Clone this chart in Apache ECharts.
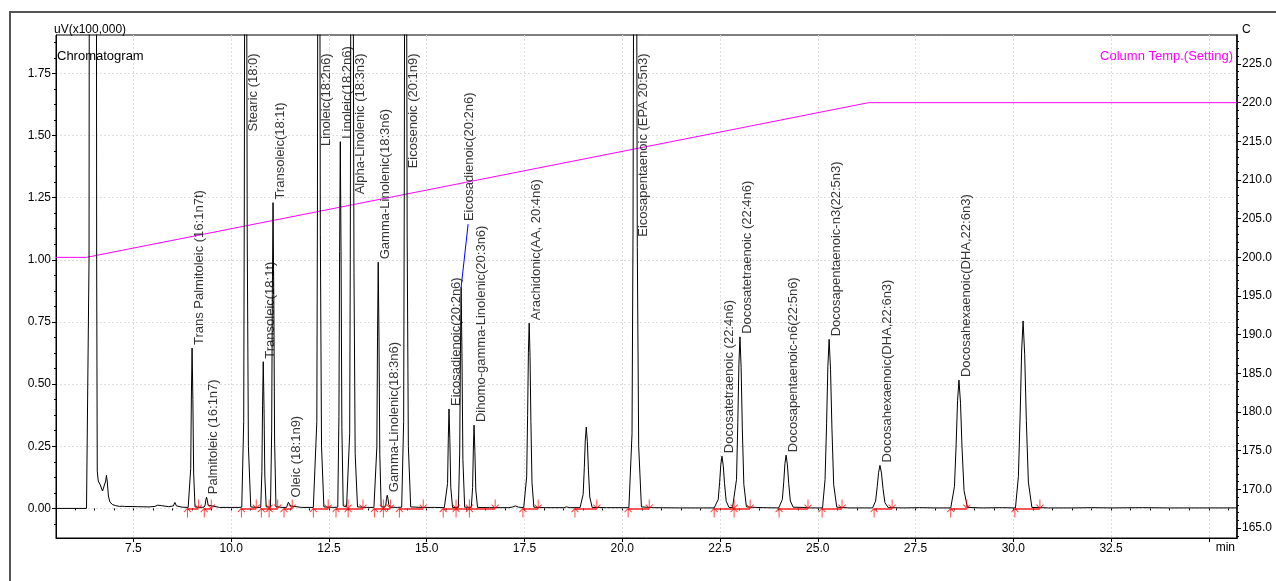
<!DOCTYPE html>
<html>
<head>
<meta charset="utf-8">
<script src="https://cdn.jsdelivr.net/npm/echarts@6/dist/echarts.min.js"></script>
<style>
  html, body { margin: 0; padding: 0; background: #fff; }
  #chart { width: 1276px; height: 581px; }
</style>
</head>
<body>
<div id="chart"></div>
<script>
const FONT = "'Liberation Sans', Arial, Helvetica, sans-serif";

// Integrated peaks: retention time (min), apex height (uV x100,000) and name
const peakTimes = [9.00, 9.37, 10.37, 10.82, 11.07, 11.48, 12.24, 12.79, 13.09, 13.76, 13.99, 14.46,
  15.57, 15.88, 16.21, 17.62, 19.08, 20.33, 22.55, 23.01, 24.19, 25.29, 26.59, 28.61, 30.25];
const peakHeights = [0.645, 0.045, 3.6, 0.59, 1.23, 0.032, 4.2, 1.475, 3.0, 0.99, 0.053, 3.2,
  0.40, 0.89, 0.335, 0.745, 0.327, 3.4, 0.21, 0.69, 0.214, 0.68, 0.173, 0.516, 0.754];
const peakNames = [
  'Trans Palmitoleic (16:1n7t)', 'Palmitoleic (16:1n7)', 'Stearic (18:0)', 'Transoleic(18:1t)',
  'Transoleic(18:1t)', 'Oleic (18:1n9)', 'Linoleic(18:2n6)', 'Linoleic(18:2n6)',
  'Alpha-Linolenic (18:3n3)', 'Gamma-Linolenic(18:3n6)', 'Gamma-Linolenic(18:3n6)', 'Eicosenoic (20:1n9)',
  'Eicosadienoic(20:2n6)', 'Eicosadienoic(20:2n6)', 'Dihomo-gamma-Linolenic(20:3n6)', 'Arachidonic(AA, 20:4n6)',
  '', 'Eicosapentaenoic (EPA 20:5n3)', 'Docosatetraenoic (22:4n6)', 'Docosatetraenoic (22:4n6)',
  'Docosapentaenoic-n6(22:5n6)', 'Docosapentaenoic-n3(22:5n3)', 'Docosahexaenoic(DHA,22:6n3)',
  'Docosahexaenoic(DHA,22:6n3)', ''];

// Integration windows (peak start / peak end, min)
const integrationStarts = [8.88, 9.31, 10.26, 10.77, 10.97, 11.35, 12.10, 12.68, 12.99, 13.66, 13.89, 14.30,
  15.42, 15.75, 16.09, 17.46, 18.79, 20.15, 22.35, 22.86, 24.01, 25.11, 26.44, 28.40, 30.04];
const integrationEnds = [9.16, 9.49, 10.64, 10.97, 11.19, 11.56, 12.48, 12.99, 13.37, 13.89, 14.07, 14.91,
  15.75, 16.09, 16.75, 17.85, 19.35, 20.69, 22.86, 23.27, 24.75, 25.62, 26.90, 28.81, 30.68];

// Detector signal [time (min), uV x100,000]
const chromatogram = [
  [5.52, 0], [6.30, 0], [6.35, 0.003], [6.365, 1.0], [6.38, 4], [6.45, 15], [6.52, 15], [6.545, 4], [6.56, 1.0],
  [6.575, 0.15], [6.60, 0.11], [6.65, 0.095], [6.71, 0.07], [6.76, 0.078], [6.79, 0.11], [6.81, 0.133], [6.83, 0.11],
  [6.86, 0.05], [6.90, 0.025], [6.97, 0.015], [7.05, 0.011], [7.15, 0.008], [7.21, 0.009], [7.24, 0.013], [7.27, 0.008],
  [7.6, 0.007], [7.9, 0.006], [8.05, 0.008], [8.12, 0.013], [8.22, 0.011], [8.4, 0.007], [8.52, 0.01], [8.56, 0.024],
  [8.6, 0.01], [8.75, 0.005], [8.9, 0.004],
  [8.935, 0.004], [8.965, 0.161], [8.982, 0.452], [9.00, 0.645], [9.02, 0.439], [9.04, 0.142], [9.075, 0.006],
  [9.2, 0.004],
  [9.305, 0.005], [9.335, 0.014], [9.352, 0.034], [9.37, 0.045], [9.39, 0.033], [9.41, 0.013], [9.445, 0.005],
  [9.7, 0.004], [10.0, 0.004], [10.2, 0.004],
  [10.27, 0.005], [10.32, 0.35], [10.335, 1.2], [10.35, 2.6], [10.37, 3.6], [10.39, 2.6], [10.41, 1.1], [10.44, 0.25], [10.50, 0.006],
  [10.65, 0.004],
  [10.755, 0.004], [10.785, 0.148], [10.802, 0.413], [10.82, 0.59], [10.84, 0.401], [10.86, 0.13], [10.895, 0.006],
  [11.005, 0.005], [11.035, 0.308], [11.052, 0.861], [11.07, 1.23], [11.09, 0.836], [11.11, 0.271], [11.145, 0.007],
  [11.3, 0.004],
  [11.415, 0.004], [11.445, 0.011], [11.462, 0.025], [11.48, 0.032], [11.50, 0.024], [11.52, 0.01], [11.555, 0.004],
  [11.8, 0.004], [12.1, 0.004],
  [12.14, 0.005], [12.19, 0.35], [12.205, 1.2], [12.22, 2.8], [12.24, 4.2], [12.26, 2.8], [12.28, 1.1], [12.31, 0.25], [12.37, 0.006],
  [12.6, 0.004],
  [12.725, 0.005], [12.755, 0.369], [12.772, 1.033], [12.79, 1.475], [12.81, 1.003], [12.83, 0.325], [12.865, 0.01],
  [12.95, 0.006],
  [12.99, 0.006], [13.03, 0.3], [13.045, 1.0], [13.06, 2.2], [13.09, 3.0], [13.12, 2.2], [13.14, 0.95], [13.17, 0.22], [13.23, 0.006],
  [13.45, 0.004], [13.65, 0.004],
  [13.695, 0.004], [13.725, 0.248], [13.742, 0.693], [13.76, 0.99], [13.78, 0.673], [13.80, 0.218], [13.835, 0.007],
  [13.925, 0.005], [13.955, 0.017], [13.972, 0.04], [13.99, 0.053], [14.01, 0.038], [14.03, 0.015], [14.065, 0.005],
  [14.25, 0.004],
  [14.36, 0.005], [14.41, 0.35], [14.425, 1.2], [14.44, 2.6], [14.46, 3.2], [14.48, 2.6], [14.50, 1.1], [14.53, 0.25], [14.59, 0.006],
  [14.9, 0.004], [15.2, 0.004], [15.45, 0.003],
  [15.50, 0.003], [15.533, 0.1], [15.552, 0.28], [15.57, 0.40], [15.592, 0.27], [15.615, 0.085], [15.66, 0.004],
  [15.81, 0.004], [15.843, 0.223], [15.862, 0.623], [15.88, 0.89], [15.902, 0.605], [15.925, 0.196], [15.97, 0.005],
  [16.14, 0.004], [16.173, 0.084], [16.192, 0.235], [16.21, 0.335], [16.232, 0.228], [16.255, 0.074], [16.30, 0.004],
  [16.6, 0.003], [17.1, 0.003], [17.2, 0.006], [17.27, 0.01], [17.35, 0.005], [17.48, 0.003],
  [17.516, 0.003], [17.556, 0.127], [17.58, 0.373], [17.60, 0.626], [17.62, 0.745], [17.642, 0.611], [17.664, 0.35], [17.692, 0.104], [17.74, 0.005],
  [18.0, 0.003], [18.5, 0.003], [18.58, 0.006], [18.66, 0.003], [18.92, 0.003],
  [18.95, 0.003], [19.00, 0.056], [19.03, 0.164], [19.055, 0.275], [19.08, 0.327], [19.108, 0.268], [19.135, 0.154], [19.17, 0.046], [19.23, 0.004],
  [19.6, 0.003], [20.0, 0.003], [20.17, 0.003],
  [20.19, 0.004], [20.25, 0.3], [20.275, 1.1], [20.295, 2.4], [20.33, 3.4], [20.365, 2.4], [20.385, 1.05], [20.42, 0.25], [20.49, 0.006],
  [20.8, 0.003], [21.5, 0.002], [22.0, 0.002], [22.35, 0.002],
  [22.394, 0.002], [22.454, 0.036], [22.49, 0.105], [22.52, 0.176], [22.55, 0.21], [22.583, 0.172], [22.616, 0.099], [22.658, 0.029], [22.73, 0.004],
  [22.82, 0.003],
  [22.867, 0.003], [22.922, 0.117], [22.955, 0.345], [22.983, 0.58], [23.01, 0.69], [23.04, 0.566], [23.07, 0.324], [23.109, 0.097], [23.175, 0.006],
  [23.4, 0.004], [23.6, 0.003], [24.0, 0.002],
  [24.034, 0.002], [24.094, 0.036], [24.13, 0.107], [24.16, 0.18], [24.19, 0.214], [24.223, 0.175], [24.256, 0.101], [24.298, 0.03], [24.37, 0.005],
  [24.6, 0.004], [24.8, 0.002], [25.05, 0.002],
  [25.121, 0.002], [25.186, 0.116], [25.225, 0.34], [25.258, 0.571], [25.29, 0.68], [25.326, 0.558], [25.362, 0.32], [25.407, 0.095], [25.485, 0.005],
  [25.8, 0.002], [26.2, 0.002], [26.4, 0.002],
  [26.408, 0.002], [26.478, 0.029], [26.52, 0.087], [26.555, 0.145], [26.59, 0.173], [26.629, 0.142], [26.667, 0.081], [26.716, 0.024], [26.80, 0.003],
  [27.2, 0.002], [27.6, 0.003], [28.0, 0.002], [28.4, 0.002],
  [28.423, 0.002], [28.495, 0.088], [28.538, 0.258], [28.574, 0.433], [28.61, 0.516], [28.65, 0.423], [28.689, 0.243], [28.74, 0.072], [28.826, 0.004],
  [29.2, 0.002], [29.7, 0.003], [30.0, 0.002],
  [30.055, 0.002], [30.13, 0.128], [30.175, 0.377], [30.213, 0.633], [30.25, 0.754], [30.291, 0.618], [30.333, 0.354], [30.385, 0.106], [30.475, 0.004],
  [30.9, 0.002], [31.5, 0.002], [32.0, 0.003], [32.5, 0.002], [33.3, 0.003], [34.0, 0.002], [35.72, 0.002]
];

// Column oven set-point program [time (min), C]
const columnTemp = [[5.52, 200], [6.3, 200], [26.3, 220], [35.72, 220]];

// Axis ticks
const timeTicks = [7.5, 10, 12.5, 15, 17.5, 20, 22.5, 25, 27.5, 30, 32.5, 35];
const timeTickLabels = [7.5, 10, 12.5, 15, 17.5, 20, 22.5, 25, 27.5, 30, 32.5];
const signalTicks = [0, 0.25, 0.5, 0.75, 1, 1.25, 1.5, 1.75];
const tempTicks = [165, 170, 175, 180, 185, 190, 195, 200, 205, 210, 215, 220, 225];

// Axis extents
const X_MIN = 5.52, X_MAX = 35.72;
const Y_MIN = -0.119, Y_MAX = 1.904;
const T_MIN = 163.71, T_MAX = 228.75;
const LABEL_TOP = 1.83;             // labels of off-scale peaks hang from here
const displaced = { index: 13, lift: 66, shift: 8 }; // label moved up with a leader line

function steps(from, to, step) {
  const out = [];
  for (let v = from; v <= to + 1e-9; v += step) out.push(+v.toFixed(4));
  return out;
}
const timeMinor = steps(6, 35.5, 0.5);
const signalMinor = steps(-0.0625, 1.875, 0.0625);
const tempMinor = steps(164, 228, 1);

const black = '#000';
const gridLine = { show: true, lineStyle: { color: '#dedede', width: 1, type: [2, 2] } };

function mainAxisBase(extra) {
  return Object.assign({
    type: 'value',
    axisLine: { show: true, onZero: false, lineStyle: { color: black, width: 1 } },
    axisLabel: { color: black, fontSize: 12, fontFamily: FONT, margin: 5 },
    splitLine: { show: false }
  }, extra);
}
function minorAxis(extra, values) {
  return Object.assign({
    type: 'value',
    axisLine: { show: false },
    axisLabel: { show: false },
    splitLine: { show: false },
    axisTick: { show: true, length: 2, customValues: values, lineStyle: { color: black, width: 1 } }
  }, extra);
}

const labelData = [];
peakTimes.forEach((t, i) => {
  if (!peakNames[i]) return;
  const offScale = peakHeights[i] > LABEL_TOP;
  const label = {
    show: true,
    position: 'inside',
    rotate: 90,
    align: offScale ? 'right' : 'left',
    verticalAlign: 'middle',
    offset: offScale ? [0, 8] : [3, 7],
    formatter: peakNames[i],
    fontSize: 13,
    fontFamily: FONT,
    color: black
  };
  if (i === displaced.index) label.offset = [displaced.lift, displaced.shift];
  labelData.push({ name: peakNames[i], value: [t, Math.min(peakHeights[i], LABEL_TOP)], label: label });
});

const upArrow = 'path://M5,0L0,5M5,0L10,5M5,0L5,12';
const downArrow = 'path://M5,12L0,7M5,12L10,7M5,12L5,0';

const chart = echarts.init(document.getElementById('chart'), null, { renderer: 'canvas' });
chart.setOption({
  animation: false,
  backgroundColor: '#fff',
  textStyle: { fontFamily: FONT },
  title: [
    { text: 'Chromatogram', left: 57, top: 50, padding: 0,
      textStyle: { fontSize: 13, fontWeight: 'normal', color: black, fontFamily: FONT } },
    { text: 'Column Temp.(Setting)', right: 43, top: 50, padding: 0,
      textStyle: { fontSize: 13, fontWeight: 'normal', color: '#ff00ff', fontFamily: FONT } }
  ],
  grid: { left: 56, right: 39, top: 35, bottom: 43, show: true, borderColor: black, borderWidth: 1,
          backgroundColor: 'transparent', outerBoundsMode: 'none' },
  xAxis: [
    mainAxisBase({
      position: 'bottom', min: X_MIN, max: X_MAX,
      name: 'min', nameLocation: 'end', nameGap: -2,
      nameTextStyle: { color: black, fontSize: 12, fontFamily: FONT, align: 'right', verticalAlign: 'top', padding: [4, 0, 0, 0] },
      axisTick: { show: true, length: 4, customValues: timeTicks, lineStyle: { color: black } },
      axisLabel: { color: black, fontSize: 12, fontFamily: FONT, margin: 5, customValues: timeTickLabels,
                   formatter: v => Number(v).toFixed(1) },
      splitLine: gridLine
    }),
    minorAxis({ position: 'bottom', min: X_MIN, max: X_MAX }, timeMinor)
  ],
  yAxis: [
    mainAxisBase({
      position: 'left', min: Y_MIN, max: Y_MAX,
      name: 'uV(x100,000)', nameLocation: 'end', nameGap: -1,
      nameTextStyle: { color: black, fontSize: 12, fontFamily: FONT, align: 'left', verticalAlign: 'bottom', padding: [0, 0, 0, -2] },
      axisTick: { show: true, length: 4, customValues: signalTicks, lineStyle: { color: black } },
      axisLabel: { color: black, fontSize: 12, fontFamily: FONT, margin: 5, customValues: signalTicks,
                   formatter: v => Number(v).toFixed(2) },
      splitLine: gridLine
    }),
    minorAxis({ position: 'left', min: Y_MIN, max: Y_MAX }, signalMinor),
    mainAxisBase({
      position: 'right', min: T_MIN, max: T_MAX,
      name: 'C', nameLocation: 'end', nameGap: -1,
      nameTextStyle: { color: black, fontSize: 12, fontFamily: FONT, align: 'left', verticalAlign: 'bottom', padding: [0, 0, 0, 5] },
      axisLine: { show: true, onZero: false, lineStyle: { color: '#222', width: 2 } },
      axisTick: { show: true, length: 4, customValues: tempTicks, lineStyle: { color: black } },
      axisLabel: { color: black, fontSize: 12, fontFamily: FONT, margin: 5, customValues: tempTicks,
                   formatter: v => Number(v).toFixed(1) }
    }),
    minorAxis({ position: 'right', min: T_MIN, max: T_MAX }, tempMinor)
  ],
  graphic: [
    { id: 'frame', type: 'rect', z: 100, silent: true,
      shape: { x: 10, y: 12, width: 1300, height: 620 },
      style: { fill: 'none', stroke: '#555', lineWidth: 2 } }
  ],
  series: [
    {
      name: 'Column Temp.(Setting)', type: 'line', xAxisIndex: 0, yAxisIndex: 2,
      data: columnTemp, symbol: 'none', silent: true,
      lineStyle: { color: '#ff00ff', width: 1 }, z: 2
    },
    {
      name: 'Chromatogram', type: 'line', xAxisIndex: 0, yAxisIndex: 0,
      data: chromatogram, symbol: 'none', silent: true, clip: true,
      lineStyle: { color: black, width: 1 }, z: 3
    },
    {
      name: 'baseline', type: 'lines', coordinateSystem: 'cartesian2d', xAxisIndex: 0, yAxisIndex: 0,
      silent: true, z: 4,
      lineStyle: { color: '#ff2020', width: 1.5, opacity: 1, curveness: 0 },
      data: integrationStarts.map((s, i) => ({ coords: [[s, 0], [integrationEnds[i], 0]] }))
    },
    {
      name: 'peak start', type: 'scatter', xAxisIndex: 0, yAxisIndex: 0, silent: true, z: 5,
      symbol: upArrow, symbolSize: [7, 9], symbolOffset: [0, 4.5],
      itemStyle: { color: 'transparent', borderColor: '#ff0000', borderWidth: 1 },
      data: integrationStarts.map(s => [s, 0])
    },
    {
      name: 'peak end', type: 'scatter', xAxisIndex: 0, yAxisIndex: 0, silent: true, z: 5,
      symbol: downArrow, symbolSize: [7, 9], symbolOffset: [0, -4.5],
      itemStyle: { color: 'transparent', borderColor: '#ff0000', borderWidth: 1 },
      data: integrationEnds.map(e => [e, 0])
    },
    {
      name: 'peak names', type: 'scatter', xAxisIndex: 0, yAxisIndex: 0, silent: true, z: 6,
      symbolSize: 1, itemStyle: { color: 'rgba(0,0,0,0)' },
      data: labelData
    }
  ]
});

// Leader from the displaced label back to its peak apex
const apex = chart.convertToPixel({ xAxisIndex: 0, yAxisIndex: 0 },
  [peakTimes[displaced.index], peakHeights[displaced.index]]);
chart.setOption({
  graphic: [
    { id: 'frame' },
    { id: 'leader', type: 'line', z: 50, silent: true,
      shape: { x1: apex[0], y1: apex[1], x2: apex[0] + displaced.shift - 1, y2: apex[1] - displaced.lift + 3 },
      style: { stroke: '#0000ff', lineWidth: 1 } }
  ]
});
</script>
</body>
</html>
